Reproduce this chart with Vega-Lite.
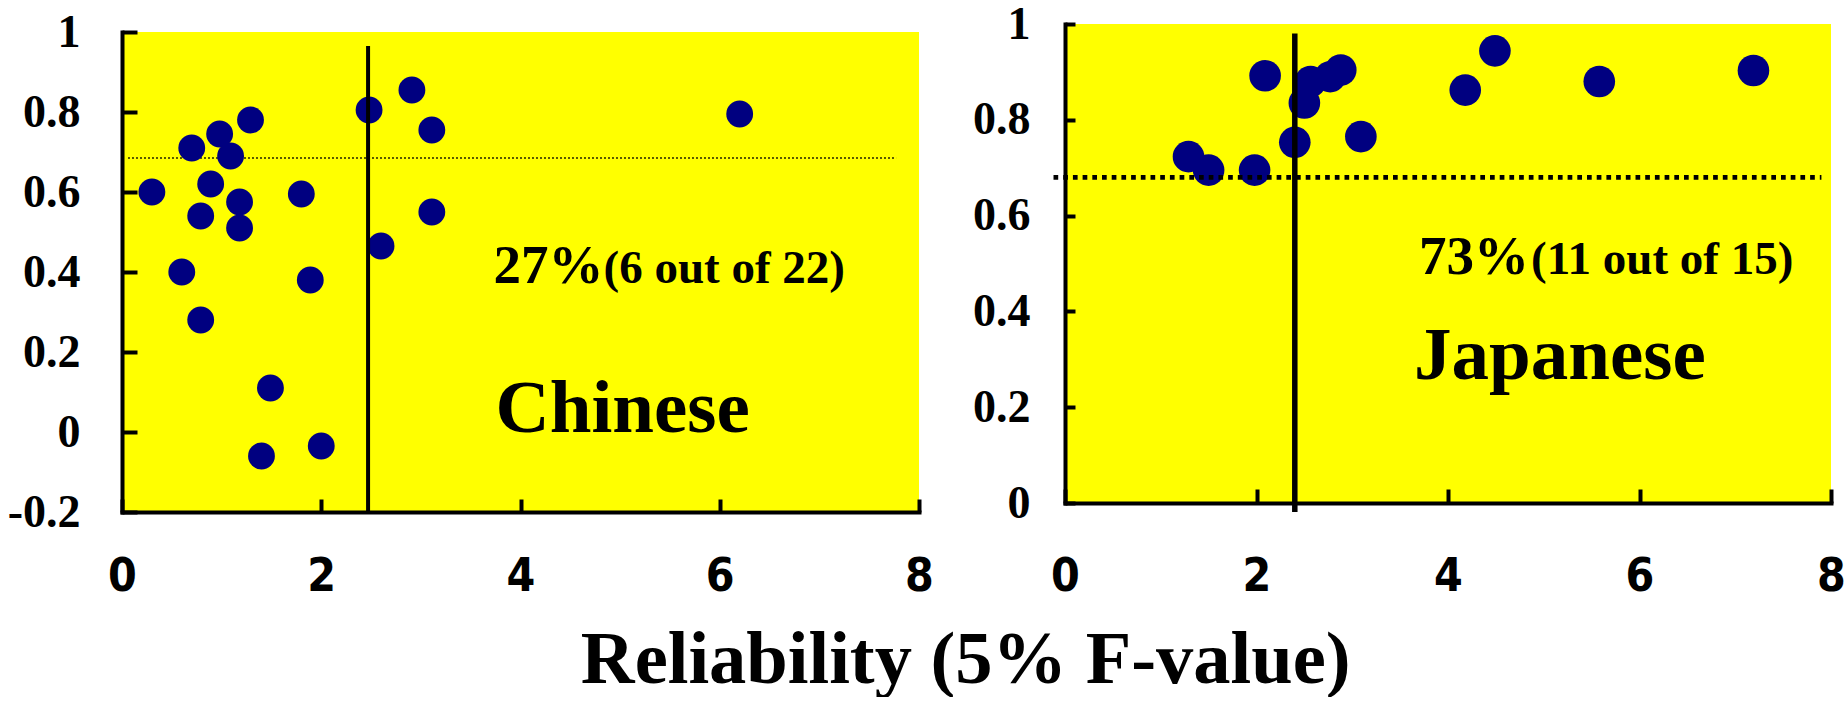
{
  "$schema": "https://vega.github.io/schema/vega-lite/v6.json",
  "padding": 0,
  "background": "#ffffff",
  "spacing": 31,
  "config": {
    "view": {"stroke": null},
    "axis": {
      "grid": false,
      "title": null,
      "domainColor": "#000000",
      "tickColor": "#000000",
      "labelColor": "#000000",
      "domainWidth": 4,
      "tickWidth": 4,
      "domainCap": "square",
      "labelOverlap": false,
      "labelFlush": false,
      "labelBound": false
    }
  },
  "title": {
    "text": "Reliability (5% F-value)",
    "orient": "bottom",
    "anchor": "middle",
    "frame": "bounds",
    "font": "Liberation Serif",
    "fontSize": 74.5,
    "fontWeight": "bold",
    "color": "#000000",
    "offset": 24,
    "dx": 43
  },
  "datasets": {
    "chinese": [
      {"fvalue": 0.30, "score": 0.60},
      {"fvalue": 0.70, "score": 0.71},
      {"fvalue": 0.98, "score": 0.745},
      {"fvalue": 1.29, "score": 0.78},
      {"fvalue": 1.09, "score": 0.69},
      {"fvalue": 0.89, "score": 0.62},
      {"fvalue": 1.18, "score": 0.575},
      {"fvalue": 0.79, "score": 0.54},
      {"fvalue": 1.18, "score": 0.51},
      {"fvalue": 1.80, "score": 0.595},
      {"fvalue": 0.60, "score": 0.40},
      {"fvalue": 0.79, "score": 0.28},
      {"fvalue": 1.89, "score": 0.38},
      {"fvalue": 1.49, "score": 0.11},
      {"fvalue": 1.40, "score": -0.06},
      {"fvalue": 2.00, "score": -0.035},
      {"fvalue": 2.48, "score": 0.805},
      {"fvalue": 2.91, "score": 0.855},
      {"fvalue": 3.11, "score": 0.755},
      {"fvalue": 3.11, "score": 0.55},
      {"fvalue": 2.60, "score": 0.465},
      {"fvalue": 6.20, "score": 0.795}
    ],
    "japanese": [
      {"fvalue": 1.29, "score": 0.723},
      {"fvalue": 1.50, "score": 0.695},
      {"fvalue": 1.98, "score": 0.695},
      {"fvalue": 2.09, "score": 0.892},
      {"fvalue": 2.40, "score": 0.753},
      {"fvalue": 2.50, "score": 0.835},
      {"fvalue": 2.565, "score": 0.880},
      {"fvalue": 2.77, "score": 0.890},
      {"fvalue": 2.88, "score": 0.904},
      {"fvalue": 3.09, "score": 0.765},
      {"fvalue": 4.18, "score": 0.862},
      {"fvalue": 4.49, "score": 0.944},
      {"fvalue": 5.58, "score": 0.880},
      {"fvalue": 7.19, "score": 0.903}
    ],
    "zh_threshold": [{"fvalue": 0.06, "fvalue2": 7.77, "score": 0.685}],
    "zh_reliability": [{"fvalue": 2.47, "score": -0.2, "score2": 0.965}],
    "ja_threshold": [{"fvalue": -0.12, "fvalue2": 7.9, "score": 0.68}],
    "ja_reliability": [{"fvalue": 2.40, "score": -0.019, "score2": 0.98}],
    "zh_pct": [{"fvalue": 3.73, "score": 0.3725, "label": "27%"}],
    "zh_count": [{"fvalue": 4.833, "score": 0.3725, "label": "(6 out of 22)"}],
    "zh_name": [{"fvalue": 3.75, "score": 0.0, "label": "Chinese"}],
    "ja_pct": [{"fvalue": 3.697, "score": 0.478, "label": "73%"}],
    "ja_count": [{"fvalue": 4.867, "score": 0.478, "label": "(11 out of 15)"}],
    "ja_name": [{"fvalue": 3.645, "score": 0.258, "label": "Japanese"}]
  },
  "hconcat": [
    {
      "spacing": 0,
      "vconcat": [
        {
          "width": 10,
          "height": 9,
          "data": {"values": []},
          "mark": "point",
          "encoding": {}
        },
        {
          "width": 797,
          "height": 480,
          "view": {"fill": "#ffff00", "stroke": null},
          "encoding": {
            "x": {
              "field": "fvalue",
              "type": "quantitative",
              "scale": {"domain": [0, 8], "nice": false, "zero": false},
              "axis": {
                "values": [0, 2, 4, 6, 8],
                "tickSize": -13,
                "labelPadding": 55.5,
                "labelBaseline": "top",
                "labelFont": "Liberation Sans Narrow, DejaVu Sans Condensed, Roboto Condensed, Liberation Sans",
                "labelFontWeight": "bold",
                "labelFontSize": 46
              }
            },
            "y": {
              "field": "score",
              "type": "quantitative",
              "scale": {"domain": [-0.2, 1], "nice": false, "zero": false},
              "axis": {
                "values": [-0.2, 0, 0.2, 0.4, 0.6, 0.8, 1],
                "tickSize": -15,
                "labelPadding": 57,
                "labelFont": "Liberation Serif",
                "labelFontWeight": "bold",
                "labelFontSize": 46,
                "minExtent": 122,
                "maxExtent": 122,
                "labelExpr": "datum.value < 0 ? '-' + format(-datum.value, '~g') : format(datum.value, '~g')"
              }
            }
          },
          "layer": [
            {
              "data": {"name": "zh_threshold"},
              "mark": {"type": "rule", "color": "#222200", "strokeWidth": 1.5, "strokeDash": [2, 2]},
              "encoding": {"x2": {"field": "fvalue2"}}
            },
            {
              "data": {"name": "chinese"},
              "mark": {"type": "circle", "size": 720, "color": "#000080", "opacity": 1}
            },
            {
              "data": {"name": "zh_reliability"},
              "mark": {"type": "rule", "color": "#000000", "strokeWidth": 4},
              "encoding": {"y2": {"field": "score2"}}
            },
            {
              "data": {"name": "zh_pct"},
              "mark": {"type": "text", "font": "Liberation Serif", "fontWeight": "bold", "fontSize": 55, "align": "left", "baseline": "alphabetic", "color": "#000000"},
              "encoding": {"text": {"field": "label"}}
            },
            {
              "data": {"name": "zh_count"},
              "mark": {"type": "text", "font": "Liberation Serif", "fontWeight": "bold", "fontSize": 47, "align": "left", "baseline": "alphabetic", "color": "#000000"},
              "encoding": {"text": {"field": "label"}}
            },
            {
              "data": {"name": "zh_name"},
              "mark": {"type": "text", "font": "Liberation Serif", "fontWeight": "bold", "fontSize": 75, "align": "left", "baseline": "alphabetic", "color": "#000000"},
              "encoding": {"text": {"field": "label"}}
            }
          ]
        }
      ]
    },
    {
      "spacing": 0,
      "vconcat": [
        {
          "width": 10,
          "height": 0.5,
          "data": {"values": []},
          "mark": "point",
          "encoding": {}
        },
        {
          "width": 766,
          "height": 479,
          "view": {"fill": "#ffff00", "stroke": null},
          "encoding": {
            "x": {
              "field": "fvalue",
              "type": "quantitative",
              "scale": {"domain": [0, 8], "nice": false, "zero": false},
              "axis": {
                "values": [0, 2, 4, 6, 8],
                "tickSize": -14,
                "labelPadding": 65,
                "labelBaseline": "top",
                "labelFont": "Liberation Sans Narrow, DejaVu Sans Condensed, Roboto Condensed, Liberation Sans",
                "labelFontWeight": "bold",
                "labelFontSize": 46
              }
            },
            "y": {
              "field": "score",
              "type": "quantitative",
              "scale": {"domain": [0, 1], "nice": false, "zero": false},
              "axis": {
                "values": [0, 0.2, 0.4, 0.6, 0.8, 1],
                "tickSize": -10,
                "labelPadding": 45,
                "labelFont": "Liberation Serif",
                "labelFontWeight": "bold",
                "labelFontSize": 46,
                "minExtent": 100,
                "maxExtent": 100,
                "labelExpr": "format(datum.value, '~g')"
              }
            }
          },
          "layer": [
            {
              "data": {"name": "japanese"},
              "mark": {"type": "circle", "size": 1000, "color": "#000080", "opacity": 1}
            },
            {
              "data": {"name": "ja_threshold"},
              "mark": {"type": "rule", "color": "#000000", "strokeWidth": 4.7, "strokeDash": [4.7, 5]},
              "encoding": {"x2": {"field": "fvalue2"}}
            },
            {
              "data": {"name": "ja_reliability"},
              "mark": {"type": "rule", "color": "#000000", "strokeWidth": 5.5},
              "encoding": {"y2": {"field": "score2"}}
            },
            {
              "data": {"name": "ja_pct"},
              "mark": {"type": "text", "font": "Liberation Serif", "fontWeight": "bold", "fontSize": 55, "align": "left", "baseline": "alphabetic", "color": "#000000"},
              "encoding": {"text": {"field": "label"}}
            },
            {
              "data": {"name": "ja_count"},
              "mark": {"type": "text", "font": "Liberation Serif", "fontWeight": "bold", "fontSize": 47, "align": "left", "baseline": "alphabetic", "color": "#000000"},
              "encoding": {"text": {"field": "label"}}
            },
            {
              "data": {"name": "ja_name"},
              "mark": {"type": "text", "font": "Liberation Serif", "fontWeight": "bold", "fontSize": 75, "align": "left", "baseline": "alphabetic", "color": "#000000"},
              "encoding": {"text": {"field": "label"}}
            }
          ]
        }
      ]
    }
  ]
}
